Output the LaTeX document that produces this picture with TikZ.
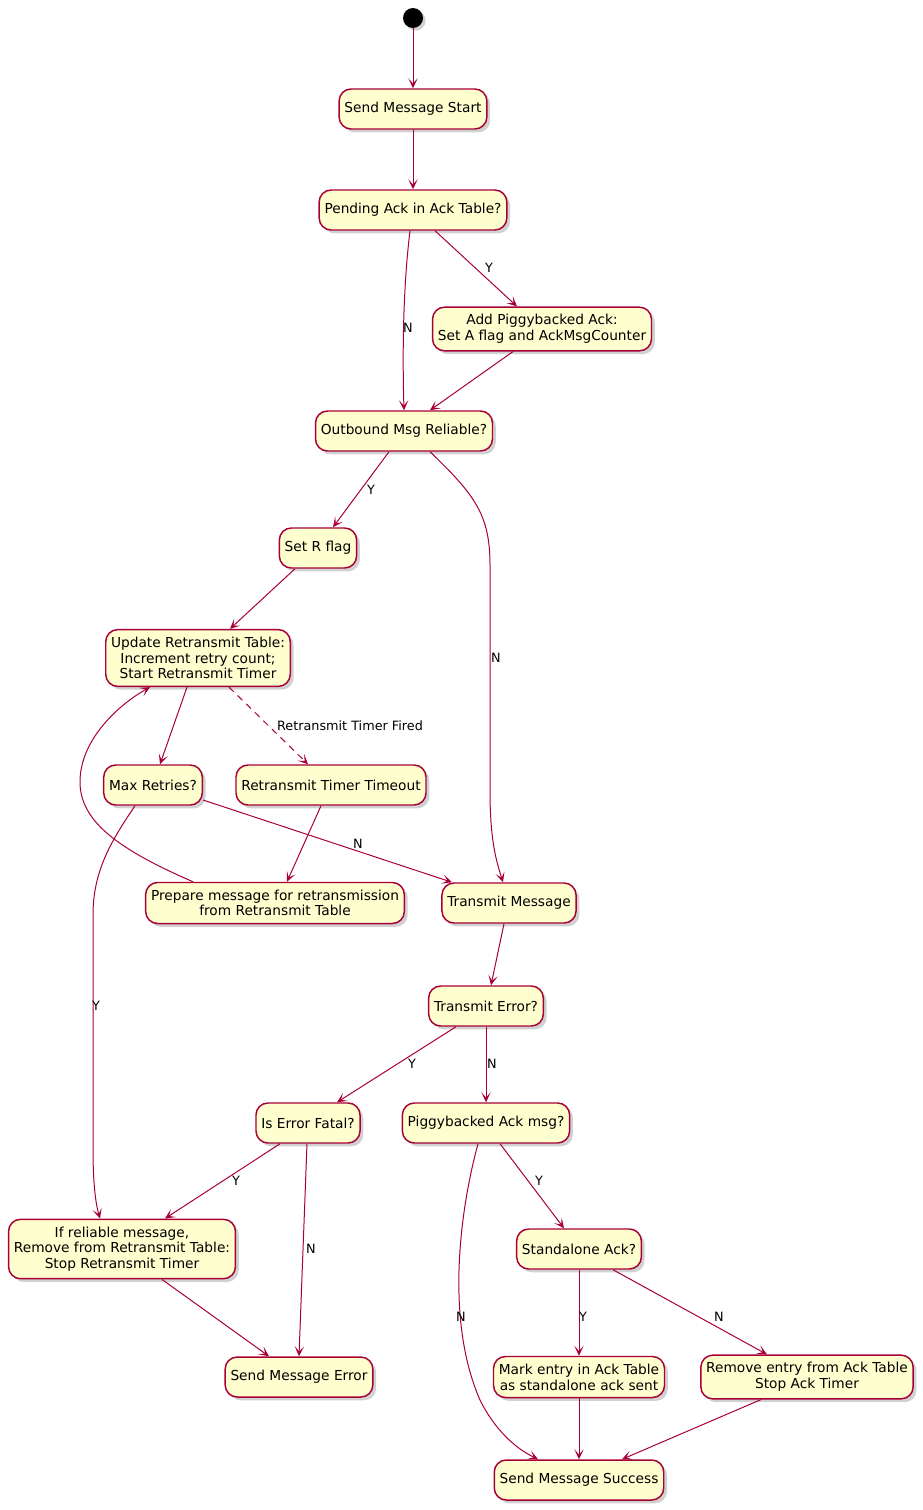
\documentclass[tikz,border=0pt]{standalone}
\usepackage{fontspec}
\setmainfont{DejaVu Sans}
\usetikzlibrary{shadows,arrows.meta}
\definecolor{pcrim}{HTML}{A80036}
\definecolor{pfill}{HTML}{FEFECE}
\tikzset{
  act/.style={draw=pcrim, fill=pfill, line width=1.1pt, rounded corners=9pt,
    minimum height=30pt, inner xsep=4pt, inner ysep=5.5pt, align=center,
    font=\fontsize{10.3}{11.8}\selectfont,
    drop shadow={shadow xshift=2.5pt, shadow yshift=-2.5pt, opacity=0.3, fill=black!60}},
  startnode/.style={circle, fill=black, minimum size=15pt, inner sep=0pt,
    drop shadow={shadow xshift=2pt, shadow yshift=-2pt, opacity=0.3, fill=black!60}},
  arr/.style={draw=pcrim, line width=0.75pt, -{Stealth[length=7.5pt,width=7pt,inset=4pt]}},
  lbl/.style={font=\fontsize{9.6}{11}\selectfont, inner sep=1pt}
}
\begin{document}
\begin{tikzpicture}[x=0.75pt,y=-0.75pt]
\useasboundingbox (0,0) rectangle (923,1510);
% nodes
\node[startnode] (start) at (413,18) {};
\node[act] (sms) at (413,109) {Send Message Start};
\node[act] (pend) at (413,210) {Pending Ack in Ack Table?};
\node[act] (addp) at (542,329) {Add Piggybacked Ack:\\ Set A flag and AckMsgCounter};
\node[act] (outb) at (404,431) {Outbound Msg Reliable?};
\node[act] (setr) at (318,548) {Set R flag};
\node[act] (upd) at (198,658) {Update Retransmit Table:\\ Increment retry count;\\ Start Retransmit Timer};
\node[act] (maxr) at (153,785) {Max Retries?};
\node[act] (rtt) at (331,785) {Retransmit Timer Timeout};
\node[act] (prep) at (275,903) {Prepare message for retransmission\\ from Retransmit Table};
\node[act] (tm) at (509,903) {Transmit Message};
\node[act] (te) at (486,1006) {Transmit Error?};
\node[act] (fatal) at (308,1123) {Is Error Fatal?};
\node[act] (pig) at (486,1123) {Piggybacked Ack msg?};
\node[act] (sa) at (579,1249) {Standalone Ack?};
\node[act] (rel) at (122,1249) {If reliable message,\\ Remove from Retransmit Table:\\ Stop Retransmit Timer};
\node[act] (err) at (299,1377) {Send Message Error};
\node[act] (mark) at (579,1377) {Mark entry in Ack Table\\ as standalone ack sent};
\node[act] (rem) at (807,1377) {Remove entry from Ack Table\\ Stop Ack Timer};
\node[act] (succ) at (579,1480) {Send Message Success};
% edges
\draw[arr] (start) -- (sms);
\draw[arr] (sms) -- (pend);
\draw[arr] ([xshift=-2.25pt]pend.south) .. controls (404,280) and (402,340) .. (outb.north);
\draw[arr] ([xshift=16.5pt]pend.south) -- ([xshift=-18.75pt]addp.north);
\draw[arr] ([xshift=-21.75pt]addp.south) -- ([xshift=19.5pt]outb.north);
\draw[arr] ([xshift=-11.25pt]outb.south) -- ([xshift=11.25pt]setr.north);
\draw[arr] ([xshift=19.5pt]outb.south) .. controls (475,495) and (490,515) .. (490,565)
  -- (490,790) .. controls (490,840) and (496,860) .. ([xshift=-4.5pt]tm.north);
\draw[arr] ([xshift=-17.25pt]setr.south) -- ([xshift=24pt]upd.north);
\draw[arr] ([xshift=-8.25pt]upd.south) -- ([xshift=5.25pt]maxr.north);
\draw[arr, dash pattern=on 5pt off 4pt] ([xshift=23.25pt]upd.south) -- ([xshift=-17.25pt]rtt.north);
\draw[arr] ([yshift=-11.25pt]maxr.east) -- ([xshift=-42.75pt]tm.north);
\draw[arr] ([xshift=-13.5pt]maxr.south) .. controls (112,840) and (93,870) .. (93,915)
  -- (93,1150) .. controls (93,1185) and (96,1205) .. ([xshift=-16.5pt]rel.north);
\draw[arr] ([xshift=-7.5pt]rtt.south) -- ([xshift=9pt]prep.north);
\draw[arr] ([xshift=-61.5pt]prep.north) .. controls (120,850) and (80,822) .. (80,782)
  .. controls (80,740) and (118,705) .. ([xshift=-36pt]upd.south);
\draw[arr] ([xshift=-3.75pt]tm.south) -- ([xshift=3.75pt]te.north);
\draw[arr] ([xshift=-22.5pt]te.south) -- ([xshift=21.75pt]fatal.north);
\draw[arr] (te.south) -- (pig.north);
\draw[arr] ([xshift=-21pt]fatal.south) -- ([xshift=32.25pt]rel.north);
\draw[arr] ([xshift=-0.75pt]fatal.south) -- (err.north);
\draw[arr] ([xshift=30pt]rel.south) -- ([xshift=-22.5pt]err.north);
\draw[arr] ([xshift=10.5pt]pig.south) -- ([xshift=-11.25pt]sa.north);
\draw[arr] ([xshift=-6pt]pig.south) .. controls (460,1210) and (445,1320) .. (480,1400)
  .. controls (495,1430) and (515,1448) .. ([xshift=-30.75pt]succ.north);
\draw[arr] (sa.south) -- (mark.north);
\draw[arr] ([xshift=25.5pt]sa.south) -- ([xshift=-30pt]rem.north);
\draw[arr] (mark.south) -- (succ.north);
\draw[arr] ([xshift=-34.5pt]rem.south) -- ([xshift=32.25pt]succ.north);
% labels
\node[lbl] (l1) at (408,328) {N};
\node[lbl] (l2) at (489,268) {Y};
\node[lbl] (l3) at (371,490) {Y};
\node[lbl] (l4) at (496,658) {N};
\node[lbl] (l5) at (350,726) {Retransmit Timer Fired};
\node[lbl] (l6) at (358,844) {N};
\node[lbl] (l7) at (96,1006) {Y};
\node[lbl] (l8) at (412,1064) {Y};
\node[lbl] (l9) at (492,1064) {N};
\node[lbl] (l10) at (236,1181) {Y};
\node[lbl] (l11) at (311,1249) {N};
\node[lbl] (l12) at (539,1181) {Y};
\node[lbl] (l13) at (461,1317) {N};
\node[lbl] (l14) at (583,1317) {Y};
\node[lbl] (l15) at (719,1317) {N};
\end{tikzpicture}
\end{document}
